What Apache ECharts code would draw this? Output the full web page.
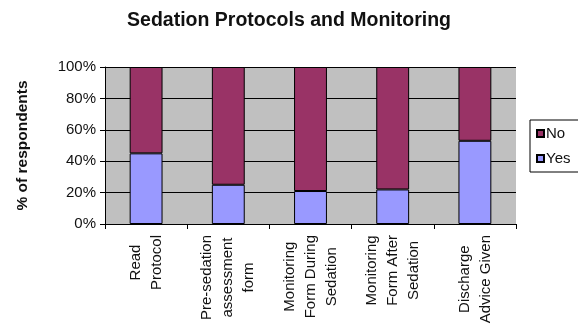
<!DOCTYPE html>
<html>
<head>
<meta charset="utf-8">
<script src="https://cdn.jsdelivr.net/npm/echarts@6/dist/echarts.min.js"></script>
<style>
  html, body { margin: 0; padding: 0; background: #ffffff; }
  #chart { width: 578px; height: 331px; }
</style>
</head>
<body>
<div id="chart"></div>
<script>
// Survey results: share of respondents per sedation item
const categories = [
  'Read\nProtocol',
  'Pre-sedation\nassessment\nform',
  'Monitoring\nForm During\nSedation',
  'Monitoring\nForm After\nSedation',
  'Discharge\nAdvice Given'
];
const yesValues = [45, 25, 21, 22, 53];
const noValues = [55, 75, 79, 78, 47];
const yTicks = [0, 20, 40, 60, 80, 100];

const FONT = "'Liberation Sans', Arial, sans-serif";

const chart = echarts.init(document.getElementById('chart'), null, { renderer: 'canvas' });

chart.setOption({
  animation: false,
  backgroundColor: '#ffffff',
  title: {
    text: 'Sedation Protocols and Monitoring',
    left: 'center',
    top: 6,
    textStyle: { fontFamily: FONT, fontSize: 19.5, fontWeight: 'bold', color: '#111111' }
  },
  legend: {
    data: ['No', 'Yes'],
    orient: 'vertical',
    left: 530,
    top: 120,
    padding: [6, 40, 6, 6],
    itemGap: 10,
    itemWidth: 7,
    itemHeight: 7,
    icon: 'rect',
    borderColor: '#000000',
    borderWidth: 1,
    textStyle: { fontFamily: FONT, fontSize: 15, color: '#111111', padding: [0, 0, 0, -3] }
  },
  grid: {
    left: 105,
    right: 62,
    top: 67,
    bottom: 107,
    show: true,
    backgroundColor: '#C0C0C0',
    borderWidth: 0
  },
  xAxis: {
    type: 'category',
    data: categories,
    axisLine: { lineStyle: { color: '#000000', width: 1 } },
    axisTick: { show: true, length: 5, lineStyle: { color: '#000000' } },
    axisLabel: {
      interval: 0,
      rotate: 90,
      margin: 11,
      fontFamily: FONT,
      fontSize: 15,
      color: '#111111',
      // each line is its own rich token so the lines sit centred on one another
      formatter: function (v) {
        return v.split('\n').map(function (l) { return '{c|' + l + '}'; }).join('\n');
      },
      rich: {
        c: { align: 'center', fontFamily: FONT, fontSize: 15, lineHeight: 21, color: '#111111' }
      }
    }
  },
  yAxis: {
    type: 'value',
    min: yTicks[0],
    max: yTicks[yTicks.length - 1],
    interval: yTicks[1] - yTicks[0],
    name: '% of respondents',
    nameLocation: 'middle',
    nameRotate: 90,
    nameGap: 74,
    nameTextStyle: { fontFamily: FONT, fontSize: 15.5, fontWeight: 'bold', color: '#111111' },
    axisLine: { show: true, lineStyle: { color: '#000000', width: 1 } },
    axisTick: { show: true, length: 5, lineStyle: { color: '#000000' } },
    axisLabel: {
      margin: 9,
      fontFamily: FONT,
      fontSize: 15,
      color: '#111111',
      formatter: '{value}%'
    },
    splitLine: { show: true, lineStyle: { color: '#000000', width: 1 } }
  },
  series: [
    {
      name: 'Yes',
      type: 'bar',
      stack: 'total',
      barWidth: '40%',
      data: yesValues,
      itemStyle: { color: '#9999FF', borderColor: '#000000', borderWidth: 1 }
    },
    {
      name: 'No',
      type: 'bar',
      stack: 'total',
      barWidth: '40%',
      data: noValues,
      itemStyle: { color: '#993366', borderColor: '#000000', borderWidth: 1 }
    }
  ]
});
</script>
</body>
</html>
